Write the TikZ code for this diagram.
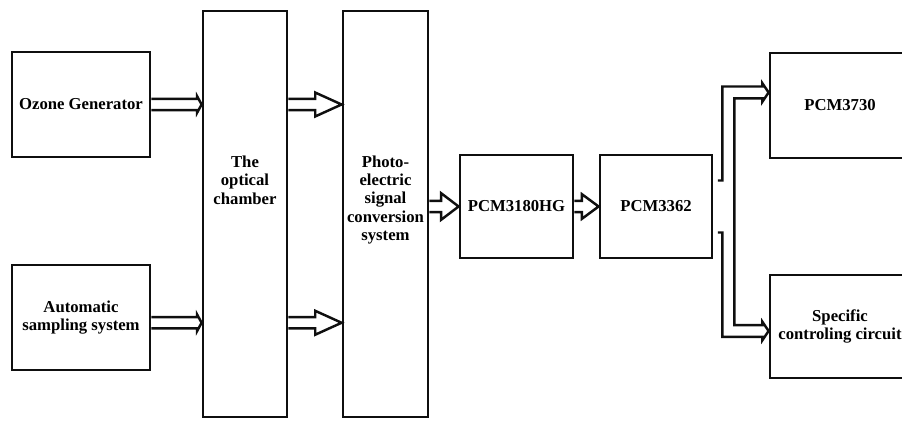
\documentclass[tikz,border=0pt]{standalone}
\usepackage{fontspec}
\setmainfont{Liberation Serif}
\usepackage{tikz}
\usetikzlibrary{calc}
\definecolor{inkc}{RGB}{15,15,15}

\begin{document}
\begin{tikzpicture}[x=0.02cm, y=-0.02cm, line join=miter,
  font=\fontsize{9.5}{10.5}\selectfont\bfseries,
  blk/.style={draw=inkc, line width=1.6pt, inner sep=0pt, align=center},
  ln/.style={draw=inkc, line width=1.4pt},
  hollow/.style 2 args={ln, to path={
    let \p1=(\tikztostart), \p2=(\tikztotarget) in
    (\x1,\y1+3.2pt) -- (\x2-#1,\y1+3.2pt) -- (\x2-#1,\y1+#2) -- (\x2,\y1)
    -- (\x2-#1,\y1-#2) -- (\x2-#1,\y1-3.2pt) -- (\x1,\y1-3.2pt)}}]
  \useasboundingbox (0,0) rectangle (902,421);
  \clip (0,0) rectangle (902,421);

  % sources
  \node[blk, minimum width=2.76cm, minimum height=2.1cm] (oz) at (81,104.5) {Ozone Generator};
  \node[blk, minimum width=2.76cm, minimum height=2.1cm] (auto) at (81,317.5) {Automatic\\sampling system};

  % tall blocks
  \node[blk, minimum width=1.68cm, minimum height=8.12cm] (opt) at (245,214) {};
  \node[blk, minimum width=1.70cm, minimum height=8.12cm] (pec) at (385.5,214) {};
  \node[align=center] (optT) at (245,180) {The\\optical\\chamber};
  \node[align=center] (pecT) at (385.5,200) {Photo-\\electric\\signal\\conversion\\system};

  % chips
  \node[blk, minimum width=2.26cm, minimum height=2.06cm] (p80) at (516.5,206.5) {PCM3180HG};
  \node[blk, minimum width=2.24cm, minimum height=2.06cm] (p62) at (656,206.5) {PCM3362};
  \node[blk, minimum width=2.8cm, minimum height=2.1cm] (p30) at (840,105.5) {PCM3730};
  \node[blk, minimum width=2.8cm, minimum height=2.06cm] (spc) at (840,326.5) {Specific\\controling circuit};

  % inputs into the chamber
  \coordinate (autoOut) at ([yshift=-3pt]auto.east);
  \draw[hollow={2.5pt}{4.6pt}] (oz.east) to (oz.east -| opt.west);
  \draw[hollow={2.5pt}{4.6pt}] (autoOut) to (autoOut -| opt.west);

  % chamber to converter, then the chain
  \draw[hollow={15pt}{6.8pt}] (oz.east -| opt.east) to (oz.east -| pec.west);
  \draw[hollow={15pt}{6.8pt}] (autoOut -| opt.east) to (autoOut -| pec.west);
  \draw[hollow={10pt}{7.6pt}] (p80.west -| pec.east) to (p80.west);
  \draw[hollow={9.5pt}{7pt}] (p80.east) to (p62.west);

  % split to the two outputs
  \coordinate (upS) at ($(p62.east)+(15,-26)$);
  \coordinate (dnS) at ($(p62.east)+(15,26)$);
  \coordinate (upE) at ($(p30.west)+(0,-13)$);
  \coordinate (dnE) at ($(spc.west)+(0,4.5)$);
  \draw[ln] let \p1=(upS), \p2=(upE), \p3=(dnS), \p4=(dnE) in
    (\x1-6pt,\y1) -- (\x1-3.4pt,\y1) |- (\x2-3.5pt,\y2+3.4pt)
    -- (\x2-3.5pt,\y2+5.2pt) -- (\x2,\y2) -- (\x2-3.5pt,\y2-5.2pt)
    -- (\x2-3.5pt,\y2-3.4pt) -| (\x1+3.4pt,\y4+3.4pt)
    -- (\x4-3.5pt,\y4+3.4pt) -- (\x4-3.5pt,\y4+5.2pt) -- (\x4,\y4)
    -- (\x4-3.5pt,\y4-5.2pt) -- (\x4-3.5pt,\y4-3.4pt) -| (\x3-3.4pt,\y3)
    -- (\x3-6pt,\y3);
\end{tikzpicture}
\end{document}
